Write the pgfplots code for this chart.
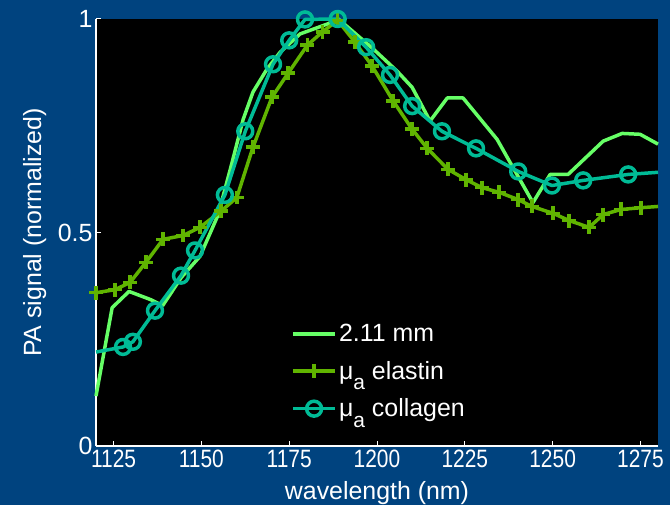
\documentclass[border=0pt]{standalone}
\usepackage{fontspec}
\setmainfont{Liberation Sans}
\usepackage{pgfplots}
\pgfplotsset{compat=1.18}
\definecolor{bgblue}{RGB}{0,67,127}
\definecolor{cLight}{RGB}{102,255,102}
\definecolor{cElastin}{RGB}{96,180,0}
\definecolor{cCollagen}{RGB}{0,187,150}
\newcommand{\mua}{μ\raisebox{-0.8ex}{\fontsize{21}{21}\selectfont a}}
\begin{document}
\begin{tikzpicture}
\fill[bgblue] (-96bp,-59bp) rectangle (574bp,446bp);
\useasboundingbox (-96bp,-59bp) rectangle (574bp,446bp);
\begin{axis}[
  at={(0,0)}, anchor=south west,
  scale only axis, width=562bp, height=427bp,
  xmin=1120, xmax=1280, ymin=0, ymax=1,
  xtick={1125,1150,1175,1200,1225,1250,1275},
  ytick={0,0.5,1},
  axis background/.style={fill=black},
  axis x line*=bottom, axis y line*=left,
  axis line style={white, line width=1.2pt, -},
  tick style={white, line width=1pt},
  tick align=inside, major tick length=5bp,
  ticklabel style={text=white},
  xticklabel style={font=\fontsize{21}{24}\selectfont, yscale=1.2},
  yticklabel style={font=\fontsize{25}{28}\selectfont, /pgf/number format/fixed},
  /pgf/number format/assume math mode=true,
  /pgf/number format/set thousands separator={},
  xlabel={wavelength (nm)},
  ylabel={PA signal (normalized)},
  label style={text=white, font=\fontsize{25}{29}\selectfont},
  xlabel style={at={(axis description cs:0.5,0)}, anchor=center, yshift=-47bp},
  ylabel style={at={(axis description cs:-0.109,0.5)}, anchor=center},
  clip=false,
  legend style={at={(axis description cs:0.345,0.292)}, anchor=north west,
    fill=black, draw=none, text=white, font=\fontsize{25}{29}\selectfont,
    inner sep=1bp, row sep=14bp, cells={anchor=west}},
  legend image code/.code={\draw[mark indices={2}] plot coordinates {(0cm,0cm) (0.75cm,0cm) (1.5cm,0cm)};},
]
\addplot[cLight, line width=3.5pt, line join=round] coordinates {
(1120,0.117) (1124.6,0.324) (1129.4,0.362) (1135.5,0.343) (1139,0.329)
(1144.3,0.395) (1149.6,0.444) (1154.7,0.54) (1158.3,0.65) (1161.9,0.765)
(1164.7,0.829) (1168.7,0.883) (1172.4,0.922) (1178.1,0.965) (1185.8,0.988)
(1189,1.0) (1198.9,0.930) (1205.7,0.878) (1210,0.840) (1215.1,0.761)
(1220,0.815) (1224.5,0.815) (1234.2,0.718) (1237.9,0.664) (1244.4,0.570)
(1249.3,0.636) (1254.4,0.636) (1264.4,0.714) (1269.8,0.732) (1274.9,0.730)
(1280,0.707)
};
\addlegendentry{2.11 mm}
\addplot[cElastin, line width=3.5pt, line join=round, mark=+, mark size=7pt, mark options={line width=3.5pt}, mark indices={1,...,32}] coordinates {
(1120,0.359) (1125.4,0.366) (1129.7,0.383) (1134.2,0.43) (1139.1,0.484)
(1144.8,0.493) (1149.6,0.512) (1155.6,0.55) (1160.1,0.582) (1164.7,0.70)
(1170.1,0.817) (1174.7,0.873) (1180.2,0.939) (1184.5,0.970) (1188.8,0.997)
(1193.7,0.946) (1198.6,0.89) (1204.6,0.808) (1210,0.742) (1214.3,0.697)
(1220.2,0.648) (1225.3,0.624) (1229.9,0.605) (1234.8,0.594) (1240.2,0.577)
(1244.1,0.561) (1250.1,0.545) (1254.7,0.528) (1260.4,0.512) (1264.4,0.542)
(1269.5,0.554) (1275.2,0.558) (1280,0.561)
};
\addlegendentry{\mua\ elastin}
\addplot[cCollagen, line width=3.5pt, line join=round, mark=o, mark size=7.5pt, mark options={line width=3.5pt}, mark indices={2,...,21}] coordinates {
(1120,0.22) (1127.7,0.232) (1130.5,0.244) (1136.8,0.317) (1144.2,0.399)
(1148.2,0.458) (1156.7,0.588) (1162.5,0.737) (1170.4,0.894) (1175,0.95)
(1179.5,0.999) (1188.8,1.0) (1196.9,0.934) (1203.7,0.869) (1210,0.796)
(1218.5,0.737) (1228.2,0.697) (1240.2,0.643) (1249.8,0.610) (1258.7,0.622)
(1271.5,0.636) (1280,0.641)
};
\addlegendentry{\mua\ collagen}
\end{axis}
\end{tikzpicture}
\end{document}
